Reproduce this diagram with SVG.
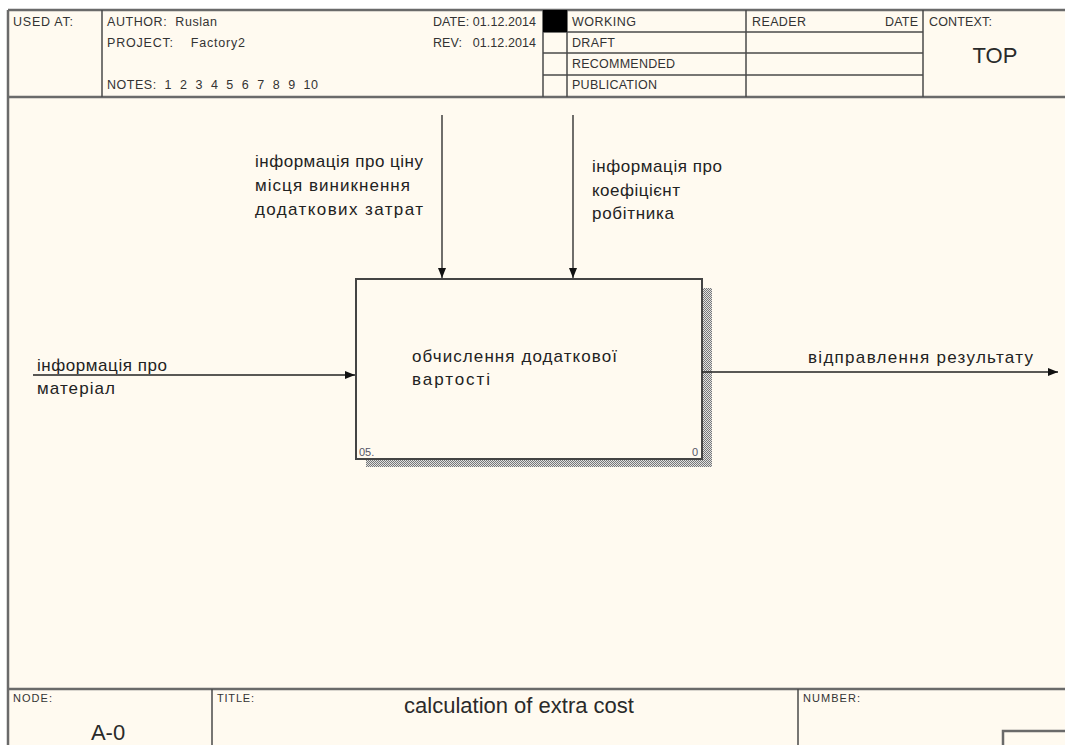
<svg xmlns="http://www.w3.org/2000/svg" width="1065" height="745" viewBox="0 0 1065 745">
<style>
.ln{stroke:#4a4a4a;stroke-width:1.5;fill:none}
.fr{stroke:#6a6a6a;stroke-width:2.5;fill:none}
.hd{font-family:"Liberation Sans",Arial,sans-serif;font-size:12.5px;fill:#333}
.ft{font-family:"Liberation Sans",Arial,sans-serif;font-size:11px;fill:#333}
.lb{font-family:"Liberation Sans",Arial,sans-serif;font-size:17px;fill:#222}
.big{font-family:"Liberation Sans",Arial,sans-serif;font-size:22px;fill:#2a2a2a}
.sm{font-family:"Liberation Sans",Arial,sans-serif;font-size:11px;fill:#556}
.arr{stroke:#222;stroke-width:1.3;fill:none}
</style>
<defs>
<pattern id="chk" width="2" height="2" patternUnits="userSpaceOnUse">
<rect width="2" height="2" fill="#e0e0e0"/>
<rect width="1" height="1" fill="#777"/>
<rect x="1" y="1" width="1" height="1" fill="#777"/>
</pattern>
<marker id="ah" viewBox="0 0 10 10" refX="10" refY="5" markerWidth="10" markerHeight="10" markerUnits="userSpaceOnUse" orient="auto">
<path d="M0,1 L10,5 L0,9 Z" fill="#111"/>
</marker>
</defs>
<rect width="1065" height="745" fill="#ffffff"/>
<rect x="8" y="10" width="1057" height="735" fill="#fffaf0"/>

<g id="header">
<line class="fr" x1="8" y1="10" x2="1065" y2="10"/>
<line class="fr" x1="8" y1="10" x2="8" y2="745"/>
<line class="fr" x1="8" y1="97" x2="1065" y2="97"/>
<line class="ln" x1="102" y1="10" x2="102" y2="97"/>
<line class="ln" x1="543" y1="10" x2="543" y2="97"/>
<line class="ln" x1="567" y1="10" x2="567" y2="97"/>
<line class="ln" x1="746" y1="10" x2="746" y2="97"/>
<line class="ln" x1="923" y1="10" x2="923" y2="97"/>
<line class="ln" x1="543" y1="32" x2="923" y2="32"/>
<line class="ln" x1="543" y1="53" x2="923" y2="53"/>
<line class="ln" x1="543" y1="75" x2="923" y2="75"/>
<rect x="543" y="10" width="24" height="22" fill="#000"/>
<text class="hd" x="13" y="26" textLength="60" lengthAdjust="spacing">USED AT:</text>
<text class="hd" x="107" y="26" textLength="110" lengthAdjust="spacing" xml:space="preserve">AUTHOR:  Ruslan</text>
<text class="hd" x="107" y="47" textLength="138" lengthAdjust="spacing" xml:space="preserve">PROJECT:    Factory2</text>
<text class="hd" x="107" y="89" textLength="211" lengthAdjust="spacing" xml:space="preserve">NOTES:  1  2  3  4  5  6  7  8  9  10</text>
<text class="hd" x="433" y="26" textLength="103" lengthAdjust="spacing">DATE: 01.12.2014</text>
<text class="hd" x="433" y="47" textLength="103" lengthAdjust="spacing" xml:space="preserve">REV:   01.12.2014</text>
<text class="hd" x="572" y="26" textLength="64" lengthAdjust="spacing">WORKING</text>
<text class="hd" x="572" y="47" textLength="43" lengthAdjust="spacing">DRAFT</text>
<text class="hd" x="572" y="68" textLength="103" lengthAdjust="spacing">RECOMMENDED</text>
<text class="hd" x="572" y="89" textLength="85" lengthAdjust="spacing">PUBLICATION</text>
<text class="hd" x="752" y="26" textLength="54" lengthAdjust="spacing">READER</text>
<text class="hd" x="885" y="26" textLength="33" lengthAdjust="spacing">DATE</text>
<text class="hd" x="929" y="26" textLength="63" lengthAdjust="spacing">CONTEXT:</text>
<text class="big" x="995" y="63" text-anchor="middle">TOP</text>
</g>

<g id="footer">
<line class="fr" x1="8" y1="689" x2="1065" y2="689"/>
<line class="ln" x1="212" y1="689" x2="212" y2="745"/>
<line class="ln" x1="798" y1="689" x2="798" y2="745"/>
<path class="fr" d="M1003,745 V731 H1065"/>
<text class="ft" x="13" y="702" textLength="39" lengthAdjust="spacing">NODE:</text>
<text class="big" x="108" y="740" text-anchor="middle">A-0</text>
<text class="ft" x="217" y="702" textLength="37" lengthAdjust="spacing">TITLE:</text>
<text class="big" x="519" y="713" text-anchor="middle">calculation of extra cost</text>
<text class="ft" x="803" y="702" textLength="57" lengthAdjust="spacing">NUMBER:</text>
</g>

<g id="node-A0">
<rect x="702" y="288" width="10" height="179" fill="url(#chk)"/>
<rect x="366" y="459" width="346" height="8" fill="url(#chk)"/>
<rect x="356" y="279" width="346" height="180" fill="#fffaf0" stroke="#444" stroke-width="2"/>
<text class="lb" x="412" y="362" textLength="205" lengthAdjust="spacing">обчислення додаткової</text>
<text class="lb" x="412" y="385" textLength="78" lengthAdjust="spacing">вартості</text>
<text class="sm" x="359" y="456">05.</text>
<text class="sm" x="698" y="456" text-anchor="end">0</text>
</g>

<g id="connectors">
<line class="arr" x1="442" y1="115" x2="442" y2="278" marker-end="url(#ah)"/>
<line class="arr" x1="573" y1="115" x2="573" y2="278" marker-end="url(#ah)"/>
<line class="arr" x1="33" y1="375" x2="355" y2="375" marker-end="url(#ah)"/>
<line class="arr" x1="702" y1="372" x2="1058" y2="372" marker-end="url(#ah)"/>
</g>

<g id="labels">
<text class="lb" x="255" y="167" textLength="168" lengthAdjust="spacing">інформація про ціну</text>
<text class="lb" x="255" y="191" textLength="155" lengthAdjust="spacing">місця виникнення</text>
<text class="lb" x="255" y="215" textLength="168" lengthAdjust="spacing">додаткових затрат</text>
<text class="lb" x="592" y="172" textLength="130" lengthAdjust="spacing">інформація про</text>
<text class="lb" x="592" y="196" textLength="88" lengthAdjust="spacing">коефіцієнт</text>
<text class="lb" x="592" y="219" textLength="82" lengthAdjust="spacing">робітника</text>
<text class="lb" x="37" y="371" textLength="130" lengthAdjust="spacing">інформація про</text>
<text class="lb" x="37" y="394" textLength="78" lengthAdjust="spacing">матеріал</text>
<text class="lb" x="808" y="363" textLength="225" lengthAdjust="spacing">відправлення результату</text>
</g>
</svg>
